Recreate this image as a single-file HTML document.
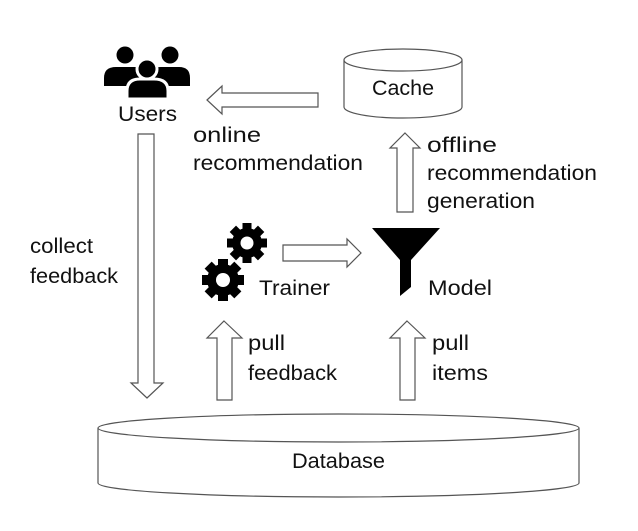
<!DOCTYPE html>
<html><head><meta charset="utf-8"><style>
html,body{margin:0;padding:0;background:#fff;}
svg{display:block;}
text{font-family:"Liberation Sans",sans-serif;font-size:21px;fill:#111;}
</style></head><body>
<svg width="638" height="531" viewBox="0 0 638 531" xmlns="http://www.w3.org/2000/svg">
<g fill="#fff" stroke="#555" stroke-width="1.2">
<polygon points="207,100 222,86 222,93 318,93 318,107 222,107 222,114"/>
<path d="M344,60 L344,107 A59,11 0 0 0 462,107 L462,60"/>
<ellipse cx="403" cy="60" rx="59" ry="11"/>
<polygon points="405,133 420,148 413,148 413,212 397,212 397,148 390,148"/>
<polygon points="138,134 154,134 154,383 163,383 147,398 131,383 138,383"/>
<polygon points="283,245 347,245 347,239 361,253 347,267 347,261 283,261"/>
<polygon points="224,321 242,338 232,338 232,400 217,400 217,338 207,338"/>
<polygon points="407,321 425,338 415,338 415,400 400,400 400,338 390,338"/>
<path d="M98,428 L98,483 A240.5,14 0 0 0 579,483 L579,428"/>
<ellipse cx="338.5" cy="428" rx="240.5" ry="14"/>
</g>
<g fill="#000">
<circle cx="125" cy="55" r="8.5"/><circle cx="170" cy="55" r="8.5"/>
<path d="M104,86 L104,78 Q104,67 116,67 L134,67 Q146,67 146,78 L146,86 Z"/>
<path d="M149,86 L149,78 Q149,67 161,67 L179,67 Q190,67 190,78 L190,86 Z"/>
<circle cx="147" cy="69" r="10" stroke="#fff" stroke-width="3"/>
<path d="M127,99 L127,91 Q127,79 140,79 L154,79 Q168,79 168,91 L168,99 Z" stroke="#fff" stroke-width="3"/>
</g>
<g fill="#000">
<g transform="translate(247,243)">
<circle r="15"/>
<rect x="-4.5" y="-20" width="9" height="40"/><rect x="-4.5" y="-20" width="9" height="40" transform="rotate(45)"/><rect x="-4.5" y="-20" width="9" height="40" transform="rotate(90)"/><rect x="-4.5" y="-20" width="9" height="40" transform="rotate(135)"/>
<circle r="6.5" fill="#fff"/>
</g>
<g transform="translate(223,280)">
<circle r="16"/>
<rect x="-5" y="-21" width="10" height="42"/><rect x="-5" y="-21" width="10" height="42" transform="rotate(45)"/><rect x="-5" y="-21" width="10" height="42" transform="rotate(90)"/><rect x="-5" y="-21" width="10" height="42" transform="rotate(135)"/>
<circle r="7" fill="#fff"/>
</g>
</g>
<path d="M372,228 L440,228 L411,260 L411,287 L400,296 L400,260 Z" fill="#000"/>
<text x="118" y="121" textLength="59" lengthAdjust="spacingAndGlyphs">Users</text>
<text x="372" y="95" textLength="62" lengthAdjust="spacingAndGlyphs">Cache</text>
<text x="193" y="142" textLength="68" lengthAdjust="spacingAndGlyphs">online</text>
<text x="193" y="170" textLength="170" lengthAdjust="spacingAndGlyphs">recommendation</text>
<text x="427" y="152" textLength="70" lengthAdjust="spacingAndGlyphs">offline</text>
<text x="427" y="180" textLength="170" lengthAdjust="spacingAndGlyphs">recommendation</text>
<text x="427" y="208" textLength="108" lengthAdjust="spacingAndGlyphs">generation</text>
<text x="30" y="253" textLength="63" lengthAdjust="spacingAndGlyphs">collect</text>
<text x="30" y="283" textLength="88" lengthAdjust="spacingAndGlyphs">feedback</text>
<text x="259" y="295" textLength="71" lengthAdjust="spacingAndGlyphs">Trainer</text>
<text x="428" y="295" textLength="64" lengthAdjust="spacingAndGlyphs">Model</text>
<text x="248" y="350" textLength="37" lengthAdjust="spacingAndGlyphs">pull</text>
<text x="248" y="380" textLength="89" lengthAdjust="spacingAndGlyphs">feedback</text>
<text x="432" y="350" textLength="37" lengthAdjust="spacingAndGlyphs">pull</text>
<text x="432" y="380" textLength="56" lengthAdjust="spacingAndGlyphs">items</text>
<text x="292" y="468" textLength="93" lengthAdjust="spacingAndGlyphs">Database</text>
</svg>
</body></html>
